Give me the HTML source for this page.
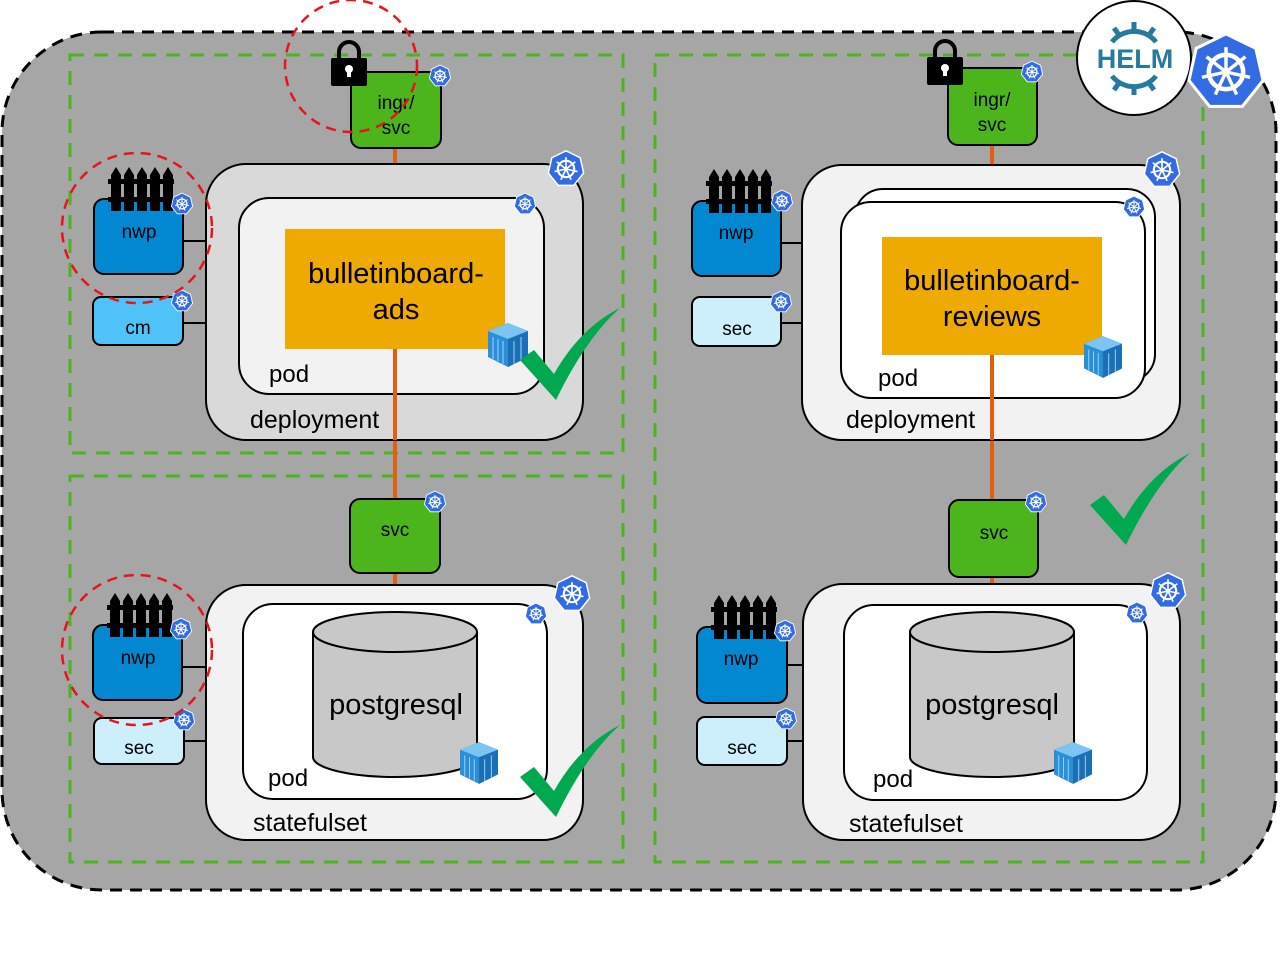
<!DOCTYPE html>
<html><head><meta charset="utf-8"><style>
body{margin:0;background:#fff}
svg{display:block;font-family:"Liberation Sans",sans-serif}
</style></head><body>
<svg width="1288" height="963" viewBox="0 0 1288 963" xmlns="http://www.w3.org/2000/svg">
<defs>
<symbol id="k8s" viewBox="-1.1 -1.1 2.2 2.2">
<polygon points="0,-1 0.78,-0.62 0.97,0.22 0.43,0.9 -0.43,0.9 -0.97,0.22 -0.78,-0.62" fill="#326ce5" stroke="#fff" stroke-width="0.08"/>
<circle r="0.45" fill="none" stroke="#fff" stroke-width="0.12"/>
<circle r="0.1" fill="#fff"/>
<g stroke="#fff" stroke-width="0.09">
<line x1="0" y1="0" x2="0" y2="-0.65"/><line x1="0" y1="0" x2="0.51" y2="-0.4"/><line x1="0" y1="0" x2="0.63" y2="0.14"/><line x1="0" y1="0" x2="0.28" y2="0.59"/><line x1="0" y1="0" x2="-0.28" y2="0.59"/><line x1="0" y1="0" x2="-0.63" y2="0.14"/><line x1="0" y1="0" x2="-0.51" y2="-0.4"/>
</g>
</symbol>
<symbol id="lock" viewBox="0 0 40 50">
<path d="M10 22 V14 a10 10 0 0 1 20 0 V22" fill="none" stroke="#000" stroke-width="4"/>
<rect x="2" y="20" width="36" height="28" rx="2" fill="#000"/>
<circle cx="20" cy="31" r="4" fill="#fff"/><rect x="18" y="31" width="4" height="8" fill="#fff"/>
</symbol>
<symbol id="fence" viewBox="0 0 66 44">
<g fill="#000">
<path d="M3 44V8l5-8 5 8v36z"/><path d="M16 44V8l5-8 5 8v36z"/><path d="M29 44V8l5-8 5 8v36z"/><path d="M42 44V8l5-8 5 8v36z"/><path d="M55 44V8l5-8 5 8v36z"/>
<rect x="0" y="12" width="66" height="5"/><rect x="0" y="30" width="66" height="5"/>
</g>
</symbol>
<symbol id="cube" viewBox="0 0 40 44">
<polygon points="20,0 40,8 40,34 20,44 0,34 0,8" fill="#2a8fd8"/>
<polygon points="20,0 40,8 20,16 0,8" fill="#7cc4f2"/>
<polygon points="20,16 40,8 40,34 20,44" fill="#1a6fb5"/>
<g stroke="#9fd4f7" stroke-width="1"><line x1="5" y1="14" x2="5" y2="36"/><line x1="10" y1="16" x2="10" y2="38"/><line x1="15" y1="18" x2="15" y2="41"/><line x1="26" y1="18" x2="26" y2="41"/><line x1="33" y1="14" x2="33" y2="38"/></g>
</symbol>
<symbol id="check" viewBox="0 0 100 92">
<path d="M0 52 L14 42 L34 66 Q60 20 100 0 Q66 30 36 92 Z" fill="#00a84f"/>
</symbol>
</defs>

<rect x="2" y="32" width="1274" height="858" rx="100" fill="#a6a6a6" stroke="#000" stroke-width="3" stroke-dasharray="12,8"/>

<g fill="none" stroke="#4db321" stroke-width="3" stroke-dasharray="14,10">
<rect x="70" y="55" width="553" height="398"/>
<rect x="70" y="476" width="553" height="386"/>
<rect x="655" y="55" width="548" height="807"/>
</g>

<g stroke="#e06010" stroke-width="4">
<line x1="395" y1="148" x2="395" y2="500"/>
<line x1="395" y1="573" x2="395" y2="605"/>
<line x1="992" y1="145" x2="992" y2="502"/>
<line x1="992" y1="577" x2="992" y2="606"/>
</g>

<g stroke="#000" stroke-width="2">
<line x1="183" y1="241" x2="206" y2="241"/><line x1="183" y1="323" x2="206" y2="323"/>
<line x1="183" y1="667" x2="206" y2="667"/><line x1="184" y1="741" x2="206" y2="741"/>
<line x1="781" y1="243" x2="803" y2="243"/><line x1="781" y1="323" x2="803" y2="323"/>
<line x1="787" y1="665" x2="803" y2="665"/><line x1="787" y1="741" x2="803" y2="741"/>
</g>
<rect x="206" y="164" width="377" height="276" rx="40" fill="#d9d9d9" stroke="#000" stroke-width="2"/>
<rect x="239" y="198" width="305" height="196" rx="30" fill="#f2f2f2" stroke="#000" stroke-width="2"/>
<rect x="285" y="229" width="220" height="120" fill="#eeaa00"/>
<line x1="395" y1="349" x2="395" y2="440" stroke="#e06010" stroke-width="4"/>
<text x="396" y="283" font-size="29" text-anchor="middle">bulletinboard-</text>
<text x="396" y="319" font-size="29" text-anchor="middle">ads</text>
<text x="269" y="382" font-size="24">pod</text>
<text x="250" y="428" font-size="25">deployment</text>
<use href="#cube" x="488" y="323" width="40" height="44"/>
<use href="#k8s" x="546" y="149" width="40" height="40"/>
<use href="#k8s" x="513" y="192" width="24" height="24"/>

<rect x="351" y="72" width="90" height="76" rx="10" fill="#4cb51c" stroke="#000" stroke-width="2"/>
<text x="396" y="109" font-size="19" text-anchor="middle">ingr/</text>
<text x="396" y="134" font-size="19" text-anchor="middle">svc</text>
<use href="#lock" x="329" y="38" width="40" height="50"/>
<use href="#k8s" x="428" y="64" width="24" height="24"/>

<rect x="94" y="199" width="89" height="75" rx="10" fill="#0288d1" stroke="#000" stroke-width="2"/>
<text x="139" y="238" font-size="19" text-anchor="middle">nwp</text>
<use href="#fence" x="108" y="167" width="66" height="44"/>
<use href="#k8s" x="170" y="192" width="24" height="24"/>
<rect x="93" y="297" width="90" height="48" rx="8" fill="#4fc3f7" stroke="#000" stroke-width="2"/>
<text x="138" y="334" font-size="19" text-anchor="middle">cm</text>
<use href="#k8s" x="170" y="289" width="24" height="24"/>
<circle cx="351" cy="66" r="66" fill="none" stroke="#e8141c" stroke-width="2.5" stroke-dasharray="10,7"/>
<circle cx="137" cy="228" r="75" fill="none" stroke="#e8141c" stroke-width="2.5" stroke-dasharray="10,7"/>
<use href="#check" x="520" y="308" width="100" height="92"/>

<rect x="206" y="585" width="377" height="255" rx="40" fill="#f2f2f2" stroke="#000" stroke-width="2"/>
<rect x="243" y="604" width="304" height="195" rx="30" fill="#fff" stroke="#000" stroke-width="2"/>
<path d="M313 632 V757 A82 20 0 0 0 477 757 V632" fill="#c8c8c8" stroke="#000" stroke-width="2"/>
<ellipse cx="395" cy="632" rx="82" ry="20" fill="#c8c8c8" stroke="#000" stroke-width="2"/>
<text x="396" y="714" font-size="29" text-anchor="middle">postgresql</text>
<text x="268" y="786" font-size="24">pod</text>
<text x="253" y="831" font-size="25">statefulset</text>
<use href="#cube" x="460" y="742" width="38" height="42"/>
<use href="#k8s" x="552" y="574" width="40" height="40"/>
<use href="#k8s" x="524" y="602" width="24" height="24"/>
<rect x="350" y="499" width="90" height="74" rx="10" fill="#4cb51c" stroke="#000" stroke-width="2"/>
<text x="395" y="536" font-size="19" text-anchor="middle">svc</text>
<use href="#k8s" x="423" y="490" width="24" height="24"/>
<rect x="93" y="625" width="89" height="75" rx="10" fill="#0288d1" stroke="#000" stroke-width="2"/>
<text x="138" y="664" font-size="19" text-anchor="middle">nwp</text>
<use href="#fence" x="107" y="593" width="66" height="44"/>
<use href="#k8s" x="169" y="617" width="24" height="24"/>
<rect x="94" y="718" width="90" height="46" rx="8" fill="#cdeefb" stroke="#000" stroke-width="2"/>
<text x="139" y="754" font-size="19" text-anchor="middle">sec</text>
<use href="#k8s" x="172" y="708" width="24" height="24"/>
<circle cx="137" cy="650" r="75" fill="none" stroke="#e8141c" stroke-width="2.5" stroke-dasharray="10,7"/>
<use href="#check" x="520" y="725" width="100" height="92"/>

<rect x="802" y="165" width="378" height="275" rx="40" fill="#f2f2f2" stroke="#000" stroke-width="2"/>
<rect x="855" y="189" width="300" height="193" rx="28" fill="#fff" stroke="#000" stroke-width="2"/>
<rect x="841" y="202" width="304" height="196" rx="30" fill="#fff" stroke="#000" stroke-width="2"/>
<rect x="882" y="237" width="220" height="118" fill="#eeaa00"/>
<line x1="992" y1="355" x2="992" y2="440" stroke="#e06010" stroke-width="4"/>
<text x="992" y="290" font-size="29" text-anchor="middle">bulletinboard-</text>
<text x="992" y="326" font-size="29" text-anchor="middle">reviews</text>
<text x="878" y="386" font-size="24">pod</text>
<text x="846" y="428" font-size="25">deployment</text>
<use href="#cube" x="1084" y="336" width="38" height="42"/>
<use href="#k8s" x="1142" y="150" width="40" height="40"/>
<use href="#k8s" x="1122" y="195" width="24" height="24"/>
<rect x="948" y="68" width="89" height="77" rx="10" fill="#4cb51c" stroke="#000" stroke-width="2"/>
<text x="992" y="106" font-size="19" text-anchor="middle">ingr/</text>
<text x="992" y="131" font-size="19" text-anchor="middle">svc</text>
<use href="#lock" x="925" y="37" width="40" height="50"/>
<use href="#k8s" x="1020" y="60" width="24" height="24"/>
<rect x="692" y="201" width="89" height="75" rx="10" fill="#0288d1" stroke="#000" stroke-width="2"/>
<text x="736" y="239" font-size="19" text-anchor="middle">nwp</text>
<use href="#fence" x="706" y="169" width="66" height="44"/>
<use href="#k8s" x="770" y="189" width="24" height="24"/>
<rect x="692" y="297" width="89" height="49" rx="8" fill="#cdeefb" stroke="#000" stroke-width="2"/>
<text x="737" y="335" font-size="19" text-anchor="middle">sec</text>
<use href="#k8s" x="769" y="290" width="24" height="24"/>
<use href="#check" x="1090" y="453" width="100" height="92"/>

<rect x="803" y="584" width="377" height="256" rx="40" fill="#f2f2f2" stroke="#000" stroke-width="2"/>
<rect x="844" y="605" width="303" height="195" rx="30" fill="#fff" stroke="#000" stroke-width="2"/>
<path d="M910 632 V757 A82 20 0 0 0 1074 757 V632" fill="#c8c8c8" stroke="#000" stroke-width="2"/>
<ellipse cx="992" cy="632" rx="82" ry="20" fill="#c8c8c8" stroke="#000" stroke-width="2"/>
<text x="992" y="714" font-size="29" text-anchor="middle">postgresql</text>
<text x="873" y="787" font-size="24">pod</text>
<text x="849" y="832" font-size="25">statefulset</text>
<use href="#cube" x="1054" y="742" width="38" height="42"/>
<use href="#k8s" x="1148" y="571" width="40" height="40"/>
<use href="#k8s" x="1125" y="601" width="24" height="24"/>
<rect x="949" y="500" width="89" height="77" rx="10" fill="#4cb51c" stroke="#000" stroke-width="2"/>
<text x="994" y="539" font-size="19" text-anchor="middle">svc</text>
<use href="#k8s" x="1024" y="490" width="24" height="24"/>
<rect x="697" y="627" width="90" height="76" rx="10" fill="#0288d1" stroke="#000" stroke-width="2"/>
<text x="741" y="665" font-size="19" text-anchor="middle">nwp</text>
<use href="#fence" x="711" y="595" width="66" height="44"/>
<use href="#k8s" x="773" y="619" width="24" height="24"/>
<rect x="697" y="717" width="90" height="48" rx="8" fill="#cdeefb" stroke="#000" stroke-width="2"/>
<text x="742" y="754" font-size="19" text-anchor="middle">sec</text>
<use href="#k8s" x="774" y="707" width="24" height="24"/>

<circle cx="1134" cy="58" r="57" fill="#fff" stroke="#000" stroke-width="2"/>
<g stroke="#277a9f" stroke-width="5" fill="none">
<path d="M1112 42 A28 28 0 0 1 1156 42"/><path d="M1112 76 A28 28 0 0 0 1156 76"/>
<line x1="1134" y1="22" x2="1134" y2="32"/><line x1="1134" y1="85" x2="1134" y2="95"/>
<line x1="1114" y1="28" x2="1119" y2="35"/><line x1="1154" y1="28" x2="1149" y2="35"/>
<line x1="1114" y1="90" x2="1119" y2="83"/><line x1="1154" y1="90" x2="1149" y2="83"/>
</g>
<text x="1135" y="68" font-size="27" font-weight="bold" fill="#277a9f" text-anchor="middle">HELM</text>
<use href="#k8s" x="1184" y="30" width="84" height="84"/>
</svg>
</body></html>
